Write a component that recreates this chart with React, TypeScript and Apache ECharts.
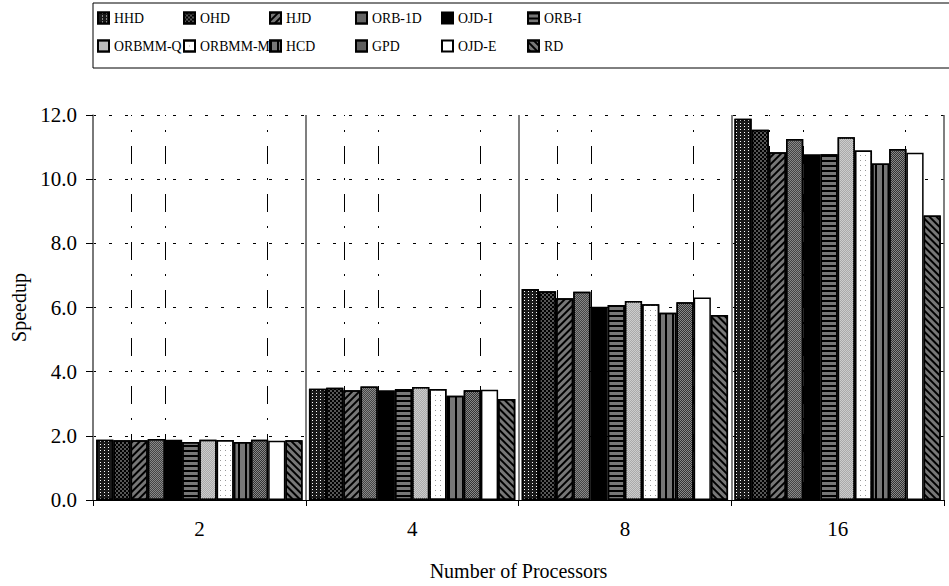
import React, { useEffect, useRef } from "react";
import * as echarts from "echarts";

const categories = ["2", "4", "8", "16"];
const seriesNames = ["HHD", "OHD", "HJD", "ORB-1D", "OJD-I", "ORB-I", "ORBMM-Q", "ORBMM-M", "HCD", "GPD", "OJD-E", "RD"];
const HHD = [1.88, 3.47, 6.58, 11.88];
const OHD = [1.86, 3.50, 6.51, 11.54];
const HJD = [1.86, 3.42, 6.29, 10.84];
const ORB1D = [1.90, 3.54, 6.49, 11.25];
const OJDI = [1.88, 3.42, 6.02, 10.78];
const ORBI = [1.81, 3.46, 6.08, 10.78];
const ORBMMQ = [1.88, 3.52, 6.20, 11.31];
const ORBMMM = [1.87, 3.46, 6.10, 10.89];
const HCD = [1.81, 3.25, 5.84, 10.49];
const GPD = [1.88, 3.42, 6.16, 10.94];
const OJDE = [1.85, 3.44, 6.31, 10.82];
const RD = [1.86, 3.15, 5.77, 8.87];
const seriesValues = [HHD, OHD, HJD, ORB1D, OJDI, ORBI, ORBMMQ, ORBMMM, HCD, GPD, OJDE, RD];
const yTicks = [0, 2, 4, 6, 8, 10, 12];
// relative positions (within a category) of the dash-dot reference lines
const refLineFractions = [0.181, 0.336, 0.82];

const FONT = '"Liberation Serif", "Times New Roman", serif';

const styles: any[] = [
  { color: "#1a1a1a", decal: { symbol: "rect", symbolSize: 1, color: "#ffffff", backgroundColor: "#111", dashArrayX: [1, 3], dashArrayY: [1, 2] } },
  { color: "#555", decal: { symbol: "rect", symbolSize: 1, color: "#000", backgroundColor: "#fff", dashArrayX: [[2, 2], [0, 2, 2, 0]], dashArrayY: [2, 0] } },
  { color: "#777", decal: { symbol: "rect", symbolSize: 1, color: "#000", backgroundColor: "#fff", dashArrayX: [1, 0], dashArrayY: [1.5, 2.8], rotation: -Math.PI / 4 } },
  { color: "#888", decal: { symbol: "rect", symbolSize: 1, color: "#444", backgroundColor: "#c4c4c4", dashArrayX: [[1, 1], [0, 1, 1, 0]], dashArrayY: [1, 0] } },
  { color: "#000" },
  { color: "#777", decal: { symbol: "rect", symbolSize: 1, color: "#000", backgroundColor: "#fff", dashArrayX: [1, 0], dashArrayY: [1.6, 2.2] } },
  { color: "#ccc", decal: { symbol: "rect", symbolSize: 1, color: "#aaa", backgroundColor: "#ececec", dashArrayX: [[1, 1], [0, 1, 1, 0]], dashArrayY: [1, 0] } },
  { color: "#fff", decal: { symbol: "rect", symbolSize: 1, color: "#999", backgroundColor: "#fff", dashArrayX: [1, 4], dashArrayY: [1, 4] } },
  { color: "#777", decal: { symbol: "rect", symbolSize: 1, color: "#000", backgroundColor: "#fff", dashArrayX: [1.5, 4.2], dashArrayY: [1, 0] } },
  { color: "#888", decal: { symbol: "rect", symbolSize: 1, color: "#333", backgroundColor: "#b0b0b0", dashArrayX: [[1, 1], [0, 1, 1, 0]], dashArrayY: [1, 0] } },
  { color: "#fff" },
  { color: "#777", decal: { symbol: "rect", symbolSize: 1, color: "#000", backgroundColor: "#fff", dashArrayX: [1, 0], dashArrayY: [1.5, 2.8], rotation: Math.PI / 4 } },
];

export default function App() {
  const ref = useRef<HTMLDivElement>(null);
  useEffect(() => {
    if (!ref.current) return;
    const chart = echarts.init(ref.current, undefined, { renderer: "svg" });

    const refLines: any[] = [];
    categories.forEach((_, i) => {
      refLineFractions.forEach((f) => refLines.push({ xAxis: i + f }));
    });

    const legends = seriesNames.map((name, i) => {
      const col = i % 6;
      const row = Math.floor(i / 6);
      return {
        data: [name],
        left: 97 + col * 86,
        top: row === 0 ? 11 : 39,
        padding: 0,
        itemGap: 0,
        itemWidth: 11,
        itemHeight: 11,
        icon: "rect",
        selectedMode: false,
        textStyle: { fontFamily: FONT, fontSize: 13.8, color: "#000" },
      };
    });

    const barSeries = seriesNames.map((name, i) => ({
      name,
      type: "bar",
      data: seriesValues[i],
      xAxisIndex: 0,
      yAxisIndex: 0,
      barGap: "0%",
      barCategoryGap: "3%",
      z: 3,
      itemStyle: { ...styles[i], borderColor: "#000", borderWidth: 1.5 },
      emphasis: { disabled: true },
    }));

    chart.setOption({
      animation: false,
      backgroundColor: "#fff",
      textStyle: { fontFamily: FONT },
      graphic: [
        {
          type: "rect",
          shape: { x: 93, y: 3, width: 880, height: 65 },
          style: { fill: "none", stroke: "#000", lineWidth: 1 },
          z: 0,
          silent: true,
        },
      ],
      legend: legends,
      grid: { left: 93, right: 5, top: 115, bottom: 81, containLabel: false },
      xAxis: [
        {
          type: "category",
          data: categories,
          axisLine: { show: true, lineStyle: { color: "#000", width: 1 } },
          axisTick: { show: true, length: 6, lineStyle: { color: "#000" } },
          splitLine: { show: true, lineStyle: { color: "#555", width: 1.5 } },
          axisLabel: { fontFamily: FONT, fontSize: 21, color: "#000", margin: 18 },
          name: "Number of Processors",
          nameLocation: "middle",
          nameGap: 61,
          nameTextStyle: { fontFamily: FONT, fontSize: 20, color: "#000" },
        },
        { type: "value", min: 0, max: categories.length, show: false },
      ],
      yAxis: {
        type: "value",
        min: yTicks[0],
        max: yTicks[yTicks.length - 1],
        interval: 2,
        axisLine: { show: true, lineStyle: { color: "#777", width: 1.5 } },
        axisTick: { show: true, length: 7, lineStyle: { color: "#000" } },
        axisLabel: { fontFamily: FONT, fontSize: 21, color: "#000", margin: 16, formatter: (v: number) => v.toFixed(1) },
        splitLine: { show: true, lineStyle: { color: "#000", width: 1, type: [3, 13] } },
        name: "Speedup",
        nameLocation: "middle",
        nameGap: 62,
        nameTextStyle: { fontFamily: FONT, fontSize: 20, color: "#000" },
      },
      series: [
        {
          type: "scatter",
          xAxisIndex: 1,
          yAxisIndex: 0,
          data: [],
          silent: true,
          z: 1,
          markLine: {
            silent: true,
            z: 1,
            symbol: ["none", "none"],
            label: { show: false },
            lineStyle: { color: "#000", width: 1, type: [18, 14, 2, 14] },
            emphasis: { disabled: true },
            data: refLines,
          },
        },
        ...barSeries,
      ],
    });
    return () => chart.dispose();
  }, []);
  return <div ref={ref} style={{ position: "fixed", left: 0, top: 0, width: 949, height: 586 }} />;
}
